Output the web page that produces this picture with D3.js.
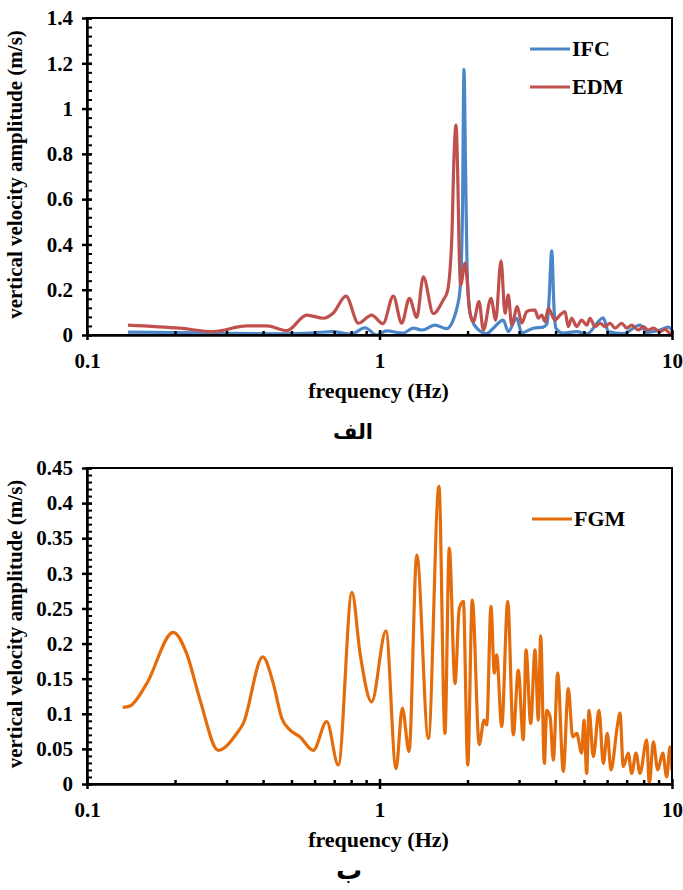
<!DOCTYPE html>
<html><head><meta charset="utf-8">
<script src="https://cdn.jsdelivr.net/npm/d3@7"></script>
<style>
html,body{margin:0;padding:0;background:#fff;}
text{font-family:"Liberation Serif","Times New Roman",serif;font-weight:bold;fill:#000;}
.ar{font-family:"DejaVu Sans","Noto Sans",sans-serif;font-weight:bold;}
</style></head>
<body>
<svg id="chart" width="683" height="890"></svg>
<script>
// ---------- DATA ----------
const xTickValues = [0.1, 1, 10];
const xTickLabels = ["0.1", "1", "10"];
const xMinorTicks = [0.2,0.3,0.4,0.5,0.6,0.7,0.8,0.9,2,3,4,5,6,7,8,9];

const topYTicks = [0, 0.2, 0.4, 0.6, 0.8, 1, 1.2, 1.4];
const topYLabels = ["0","0.2","0.4","0.6","0.8","1","1.2","1.4"];
const botYTicks = [0, 0.05, 0.1, 0.15, 0.2, 0.25, 0.3, 0.35, 0.4, 0.45];
const botYLabels = ["0","0.05","0.1","0.15","0.2","0.25","0.3","0.35","0.4","0.45"];

const ifcFreq = [0.138,0.2,0.3,0.45,0.6,0.69,0.8,0.892,0.978,1.058,1.2,1.305,1.4,1.548,1.697,1.779,1.84,1.885,1.922,1.945,1.968,1.992,2.023,2.071,2.172,2.326,2.449,2.65,2.756,2.944,3.063,3.356,3.631,3.737,3.797,3.88,3.95,4.01,4.25,4.722,5.109,5.823,6.056,6.816,7.771,8.194,9.1,9.714,10];
const ifcAmp  = [0.013,0.011,0.007,0.005,0.01,0.015,0.004,0.032,0.0,0.018,0.008,0.03,0.022,0.044,0.028,0.06,0.12,0.2,0.55,1.173,0.75,0.3,0.13,0.066,0.025,0.006,0.03,0.066,0.015,0.074,0.01,0.03,0.035,0.05,0.15,0.372,0.12,0.03,0.008,0.015,0.005,0.076,0.015,0.006,0.044,0.012,0.022,0.035,0.022];

const edmFreq = [0.138,0.208,0.27,0.352,0.412,0.482,0.564,0.643,0.695,0.768,0.847,0.94,1.028,1.115,1.191,1.265,1.341,1.412,1.527,1.652,1.705,1.766,1.798,1.826,1.851,1.874,1.895,1.96,2.039,2.093,2.189,2.265,2.405,2.496,2.603,2.686,2.756,2.831,2.958,3.063,3.186,3.314,3.401,3.491,3.586,3.68,3.777,3.98,4.141,4.307,4.42,4.54,4.722,4.912,5.109,5.244,5.454,5.674,5.902,6.138,6.385,6.73,7.0,7.281,7.67,7.978,8.299,8.632,9.1,9.465,9.845,10];
const edmAmp  = [0.044,0.030,0.015,0.040,0.040,0.019,0.088,0.074,0.097,0.172,0.052,0.088,0.05,0.172,0.052,0.162,0.078,0.257,0.095,0.155,0.19,0.42,0.79,0.927,0.71,0.35,0.221,0.317,0.096,0.059,0.147,0.022,0.162,0.066,0.328,0.096,0.177,0.044,0.125,0.052,0.103,0.110,0.110,0.074,0.088,0.059,0.118,0.066,0.088,0.103,0.037,0.074,0.037,0.066,0.044,0.074,0.037,0.052,0.037,0.052,0.030,0.052,0.030,0.044,0.022,0.037,0.022,0.030,0.015,0.025,0.008,0.01];

const fgmFreq = [0.1325,0.1403,0.160,0.197,0.219,0.2434,0.281,0.325,0.342,0.399,0.4335,0.463,0.494,0.535,0.594,0.66,0.723,0.805,0.858,0.94,1.052,1.139,1.197,1.262,1.341,1.469,1.597,1.674,1.732,1.812,1.874,1.935,2.003,2.076,2.193,2.277,2.326,2.405,2.469,2.515,2.617,2.744,2.867,2.982,3.102,3.169,3.289,3.401,3.491,3.557,3.66,3.73,3.829,3.93,4.066,4.25,4.42,4.576,4.722,4.912,5.001,5.109,5.202,5.383,5.629,5.823,6.009,6.187,6.5,6.64,6.816,7.087,7.281,7.532,7.771,8.194,8.365,8.632,8.94,9.295,9.592,9.845,10];
const fgmAmp  = [0.109,0.111,0.143,0.216,0.186,0.12,0.048,0.072,0.086,0.181,0.143,0.094,0.077,0.067,0.048,0.089,0.027,0.273,0.186,0.117,0.218,0.022,0.108,0.046,0.326,0.065,0.424,0.072,0.336,0.143,0.25,0.26,0.027,0.262,0.056,0.091,0.084,0.253,0.158,0.184,0.082,0.26,0.07,0.162,0.063,0.191,0.086,0.191,0.091,0.211,0.029,0.105,0.096,0.034,0.158,0.018,0.136,0.067,0.072,0.044,0.091,0.015,0.105,0.039,0.105,0.029,0.072,0.02,0.082,0.101,0.025,0.044,0.015,0.044,0.015,0.063,0.0,0.06,0.02,0.044,0.01,0.053,0.02];

const colors = {IFC:"#4a86c8", EDM:"#c0504d", FGM:"#e46c0a"};

// ---------- DRAW ----------
const svg = d3.select("#chart");
const FS = 21;

function panel(cfg){
  const g = svg.append("g");
  const x = d3.scaleLog().domain([0.1,10]).range([cfg.left, cfg.right]);
  const y = d3.scaleLinear().domain([0, cfg.ymax]).range([cfg.bottom, cfg.top]);

  const line = d3.line().x(d=>x(d[0])).y(d=>y(d[1])).curve(d3.curveMonotoneX);
  g.append("defs").append("clipPath").attr("id","clip"+cfg.id)
    .append("rect").attr("x",cfg.left).attr("y",cfg.top-5).attr("width",cfg.right-cfg.left).attr("height",cfg.bottom-cfg.top+5);
  cfg.series.forEach(s=>{
    const pts = s.f.map((f,i)=>[f, s.v[i]]);
    g.append("path").attr("d", line(pts)).attr("fill","none")
      .attr("stroke", s.color).attr("stroke-width",3.2).attr("stroke-linejoin","round")
      .attr("clip-path","url(#clip"+cfg.id+")");
  });

  g.append("rect").attr("x",cfg.left).attr("y",cfg.top).attr("width",cfg.right-cfg.left)
    .attr("height",cfg.bottom-cfg.top).attr("fill","none").attr("stroke","#000").attr("stroke-width",2);

  const ya = d3.axisLeft(y).tickValues(cfg.yTicks).tickFormat((d,i)=>cfg.yLabels[i]).tickSizeInner(5).tickSizeOuter(0).tickPadding(9);
  const yg = g.append("g").attr("transform",`translate(${cfg.left},0)`).call(ya);
  yg.select(".domain").attr("stroke","#000").attr("stroke-width",2.5);
  yg.selectAll(".tick line").attr("stroke-width",2.5).attr("x2",-5).attr("x1",5);
  yg.selectAll("text").style("font-size",FS+"px").style("font-family","Liberation Serif").style("font-weight","bold").attr("fill","#000");
  const ym = d3.range(0, cfg.ymax+1e-9, cfg.yMinor);
  g.append("g").attr("transform",`translate(${cfg.left},0)`)
    .call(d3.axisLeft(y).tickValues(ym).tickFormat("").tickSizeInner(-5).tickSizeOuter(0))
    .call(a=>{a.select(".domain").remove(); a.selectAll(".tick line").attr("stroke-width",2);});

  const xa = d3.axisBottom(x).tickValues(xTickValues).tickFormat((d,i)=>xTickLabels[i]).tickSizeInner(5).tickSizeOuter(0).tickPadding(13);
  const xg = g.append("g").attr("transform",`translate(0,${cfg.bottom})`).call(xa);
  xg.select(".domain").attr("stroke","#000").attr("stroke-width",2.5);
  xg.selectAll(".tick line").attr("stroke-width",2.5).attr("y1",-5).attr("y2",5);
  xg.selectAll("text").style("font-size",FS+"px").style("font-family","Liberation Serif").style("font-weight","bold").attr("fill","#000");
  g.append("g").attr("transform",`translate(0,${cfg.bottom})`)
    .call(d3.axisBottom(x).tickValues(xMinorTicks).tickFormat("").tickSizeInner(-4).tickSizeOuter(0))
    .call(a=>{a.select(".domain").remove(); a.selectAll(".tick line").attr("stroke-width",2.5);});

  g.append("text").attr("x",(cfg.left+cfg.right)/2-1).attr("y",cfg.bottom+63)
    .attr("text-anchor","middle").style("font-size","22px").text("frequency (Hz)");
  g.append("text").attr("transform",`translate(22,${(cfg.top+cfg.bottom)/2-2}) rotate(-90)`)
    .attr("text-anchor","middle").style("font-size","21px").text("vertical velocity amplitude (m/s)");
  g.append("text").attr("class","ar").attr("x",cfg.capX).attr("y",cfg.bottom+cfg.capDy)
    .attr("text-anchor","middle").attr("direction","rtl").style("font-size",cfg.capFs+"px").text(cfg.caption);

  cfg.series.forEach((s,i)=>{
    const ly = cfg.legY + i*38;
    g.append("line").attr("x1",cfg.legX).attr("x2",cfg.legX+40).attr("y1",ly).attr("y2",ly)
      .attr("stroke",s.color).attr("stroke-width",3.2);
    g.append("text").attr("x",cfg.legX+42).attr("y",ly+7).style("font-size","22px").text(s.name);
  });
}

panel({id:"a", left:87, right:672, top:18, bottom:335, ymax:1.4, yMinor:0.04,
  yTicks:topYTicks, yLabels:topYLabels, caption:"الف", capX:353, capDy:104, capFs:21, legX:530, legY:49,
  series:[{name:"IFC", f:ifcFreq, v:ifcAmp, color:colors.IFC},
          {name:"EDM", f:edmFreq, v:edmAmp, color:colors.EDM}]});
panel({id:"b", left:87, right:672, top:468, bottom:784, ymax:0.45, yMinor:0.01,
  yTicks:botYTicks, yLabels:botYLabels, caption:"ب", capX:349, capDy:95, capFs:26, legX:532, legY:519,
  series:[{name:"FGM", f:fgmFreq, v:fgmAmp, color:colors.FGM}]});
</script>
</body></html>
